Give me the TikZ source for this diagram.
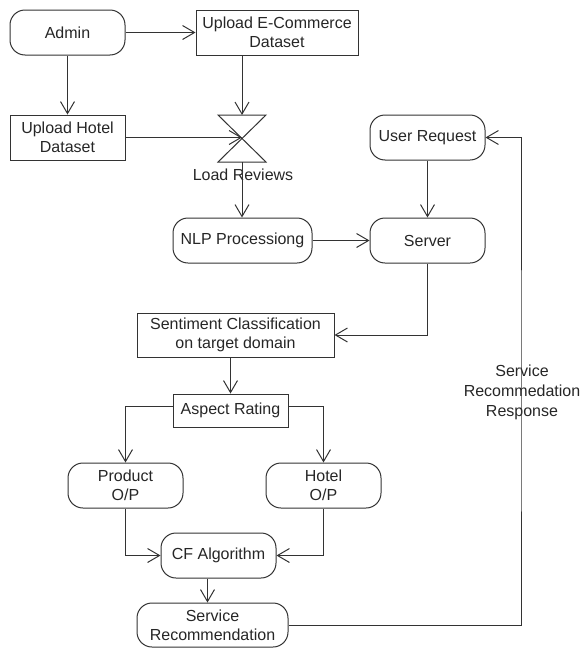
\documentclass[tikz,border=0pt]{standalone}
\usepackage{fontspec}
\setmainfont{Liberation Sans}
\usetikzlibrary{arrows.meta}
\begin{document}
\begin{tikzpicture}[x=1pt, y=-1pt, line width=1pt,
		every node/.style={font=\fontsize{16}{19}\selectfont, text=black!85},
		act/.style={draw=black!80, rounded corners=15pt, minimum height=45pt, align=center, inner sep=2pt},
		box/.style={draw=black!80, minimum height=45pt, align=center, inner sep=2pt},
		flow/.style={draw=black!80, -{Straight Barb[length=12pt, width=14pt]}}]
	\useasboundingbox (0,0) rectangle (582,648);
	% upper part: datasets and loading
	\node[act, minimum width=115pt] (admin) at (67.5,32.5) {Admin};
	\node[box, minimum width=162pt] (ecom) at (277,32.5) {Upload E-Commerce\\Dataset};
	\node[box, minimum width=115pt] (hotelds) at (67.5,137.5) {Upload Hotel\\Dataset};
	\coordinate (lr) at (242,137.5);
	\coordinate (lrtop) at (242,115);
	\coordinate (lrbot) at (242,162);
	\draw[black!80] (218,115) -- (266,115) -- (218,162) -- (266,162) -- cycle;
	\node (lrlabel) at (243,175) {Load Reviews};
	\node[act, minimum width=139pt] (nlp) at (242.5,240.5) {NLP Processiong};
	\node[act, minimum width=115pt] (userreq) at (427.5,137.5) {User Request};
	\node[act, minimum width=115pt] (server) at (427.5,240.5) {Server};
	% lower part: classification and output
	\node[box, minimum width=197pt, minimum height=44pt] (senti) at (235.5,335) {Sentiment Classification\\on target domain};
	\node[box, minimum width=115pt, minimum height=33pt] (aspect) at (230.5,410.5) {Aspect Rating};
	\node[act, minimum width=115pt] (product) at (125.5,485.5) {Product\\O/P};
	\node[act, minimum width=115pt] (hotelop) at (323.5,485.5) {Hotel\\O/P};
	\node[act, minimum width=115pt] (cf) at (218.5,555.5) {CF Algorithm};
	\node[act, minimum width=151pt, minimum height=44pt] (servrec) at (212.5,625) {Service\\Recommendation};
	\coordinate (ret) at (521,400);
	\node[align=center, font=\fontsize{16}{20}\selectfont] (retlabel) at (522,392) {Service\\Recommedation\\Response};
	% connectors
	\draw[flow] (admin) -- (ecom);
	\draw[flow] (admin) -- (hotelds);
	\draw[flow] (ecom.south -| lrtop) -- (lrtop);
	\draw[flow] (hotelds) -- (lr);
	\draw[flow] (lrbot) -- (lrbot |- nlp.north);
	\draw[flow] (nlp) -- (server);
	\draw[flow] (userreq) -- (server);
	\draw[flow] (server.south) |- (senti.east);
	\draw[flow] (aspect |- senti.south) -- (aspect.north);
	\draw[flow] ([yshift=4pt]aspect.west) -| (product.north);
	\draw[flow] ([yshift=4pt]aspect.east) -| (hotelop.north);
	\draw[flow] (product.south) |- (cf.west);
	\draw[flow] (hotelop.south) |- (cf.east);
	\draw[flow] ([xshift=-11pt]cf.south) -- ([xshift=-11pt]cf.south |- servrec.north);
	\draw[flow] (servrec.east) -| (ret) |- (userreq.east);
\end{tikzpicture}
\end{document}
